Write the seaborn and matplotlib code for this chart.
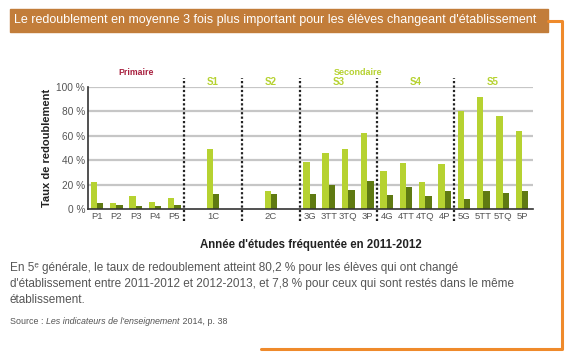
import matplotlib
matplotlib.use('Agg')
import matplotlib.pyplot as plt
from matplotlib.lines import Line2D
from matplotlib.patches import Rectangle
import matplotlib.transforms as mtransforms
import pandas as pd
import seaborn as sns

# Données (taux de redoublement en %)
annees = ['P1', 'P2', 'P3', 'P4', 'P5', '1C', '2C',
          '3G', '3TT', '3TQ', '3P', '4G', '4TT', '4TQ', '4P',
          '5G', '5TT', '5TQ', '5P']
change = [22.0, 5.2, 10.6, 5.7, 9.3, 49.0, 14.7,
          38.6, 46.0, 49.3, 62.7, 31.0, 37.8, 22.2, 36.7,
          80.2, 92.0, 76.4, 64.0]
reste = [4.6, 3.3, 2.7, 2.7, 3.0, 12.3, 12.3,
         12.3, 19.5, 15.6, 23.0, 11.5, 18.4, 10.4, 14.5,
         7.8, 14.8, 13.2, 14.8]
# ordre sur l'axe, avec des cases vides entre les niveaux
ordre = ['P1', 'P2', 'P3', 'P4', 'P5', '_a', '1C', '_b', '_c', '2C', '_d',
         '3G', '3TT', '3TQ', '3P', '4G', '4TT', '4TQ', '4P',
         '5G', '5TT', '5TQ', '5P']
separateurs = [4.5, 7.5, 10.5, 14.5, 18.5]
niveaux = [('S1', 6), ('S2', 9), ('S3', 12.5), ('S4', 16.5), ('S5', 20.5)]

df = pd.DataFrame({
    'annee': annees * 2,
    'taux': change + reste,
    'groupe': ['change'] * len(annees) + ['reste'] * len(annees),
})

vert_clair = '#b6d231'
vert_fonce = '#5f7a12'
gris = '#555555'

sns.set_style('white')
plt.rcParams['font.family'] = ['Liberation Sans', 'DejaVu Sans']

fig = plt.figure(figsize=(5.7, 3.57), dpi=100)
W, H = 570, 357
renderer = fig.canvas.get_renderer()


def ajuster(t, largeur):
    # réduit la police pour que le texte tienne dans la largeur voulue (px)
    bb = t.get_window_extent(renderer=renderer)
    t.set_fontsize(t.get_fontsize() * largeur / bb.width)
    return t


ax = fig.add_axes([88 / W, 1 - 209 / H, 445 / W, 122 / H])

sns.barplot(data=df, x='annee', y='taux', hue='groupe', order=ordre,
            palette={'change': vert_clair, 'reste': vert_fonce},
            saturation=1, width=0.66, gap=0, linewidth=0, legend=False,
            ax=ax, zorder=3)

ax.set_xlim(-0.47, 22.57)
ax.set_ylim(0, 100)
ax.set_yticks(range(0, 101, 20))
ax.set_yticklabels([f'{v} %' for v in range(0, 101, 20)], color=gris, fontsize=7.3)
ax.set_xticks(range(len(ordre)))
ax.set_xticklabels([o if not o.startswith('_') else '' for o in ordre],
                   color=gris, fontsize=6.8)
ax.tick_params(axis='both', length=0, pad=2)
for y in range(20, 101, 20):
    ax.axhline(y, color='#c6c6c6', lw=1.6, zorder=1)
sns.despine(ax=ax)
for s in ['left', 'bottom']:
    ax.spines[s].set_color('#333333')
    ax.spines[s].set_linewidth(1.2)
    ax.spines[s].set_zorder(4)

ax.set_ylabel('Taux de redoublement', fontsize=8, fontweight='bold',
              color='#222222', labelpad=3)
ax.set_xlabel("Année d'études fréquentée en 2011-2012", fontsize=8.3,
              fontweight='bold', color='#222222', labelpad=13)

for xs in separateurs:
    ax.axvline(xs, ymin=-0.1, ymax=1.075, color='#222222', lw=1.6,
               dashes=(1, 1), clip_on=False, zorder=5)

trans = mtransforms.blended_transform_factory(ax.transData, ax.transAxes)
ax.text(2, 1.12, 'Primaire', transform=trans, ha='center', va='center',
        color='#a8203f', fontsize=6.3, fontweight='bold')
ax.text(13.5, 1.12, 'Secondaire', transform=trans, ha='center', va='center',
        color=vert_clair, fontsize=6.5, fontweight='bold')
for nom, pos in niveaux:
    ax.text(pos, 1.04, nom, transform=trans, ha='center', va='center',
            color=vert_clair, fontsize=7, fontweight='bold')

# bandeau de titre et cadre orange
fig.patches.append(Rectangle((10 / W, 1 - 32 / H), 538 / W, 23 / H,
                             transform=fig.transFigure, color='#c27d3a'))
titre = fig.text(14 / W, 1 - 20.5 / H,
                 "Le redoublement en moyenne 3 fois plus important pour les élèves changeant d'établissement",
                 color='white', fontsize=10.5, va='center', ha='left')
ajuster(titre, 527)
fig.lines.append(Line2D([548 / W, 562 / W, 562 / W, 261 / W],
                        [1 - 21 / H, 1 - 21 / H, 1 - 349 / H, 1 - 349 / H],
                        transform=fig.transFigure, color='#ef8a2b', lw=2.2))

# commentaire
lignes = ["En 5ᵉ générale, le taux de redoublement atteint 80,2 % pour les élèves qui ont changé",
          "d'établissement entre 2011-2012 et 2012-2013, et 7,8 % pour ceux qui sont restés dans le même",
          "établissement."]
textes = [fig.text(10 / W, 1 - (268 + 16 * i) / H, t, color=gris, fontsize=9,
                   va='center', ha='left') for i, t in enumerate(lignes)]
ajuster(textes[0], 452)
for t in textes[1:]:
    t.set_fontsize(textes[0].get_fontsize())

# source avec partie en italique
x0 = 10 / W
morceaux = [('Source : ', 'normal'), ("Les indicateurs de l'enseignement", 'italic'),
            (' 2014, p. 38', 'normal')]
for txt, st in morceaux:
    t = fig.text(x0, 1 - 322 / H, txt, color=gris, fontsize=6.4, style=st,
                 va='center', ha='left')
    bb = t.get_window_extent(renderer=renderer)
    x0 += bb.width / W

fig.savefig('out.png', dpi=100)
